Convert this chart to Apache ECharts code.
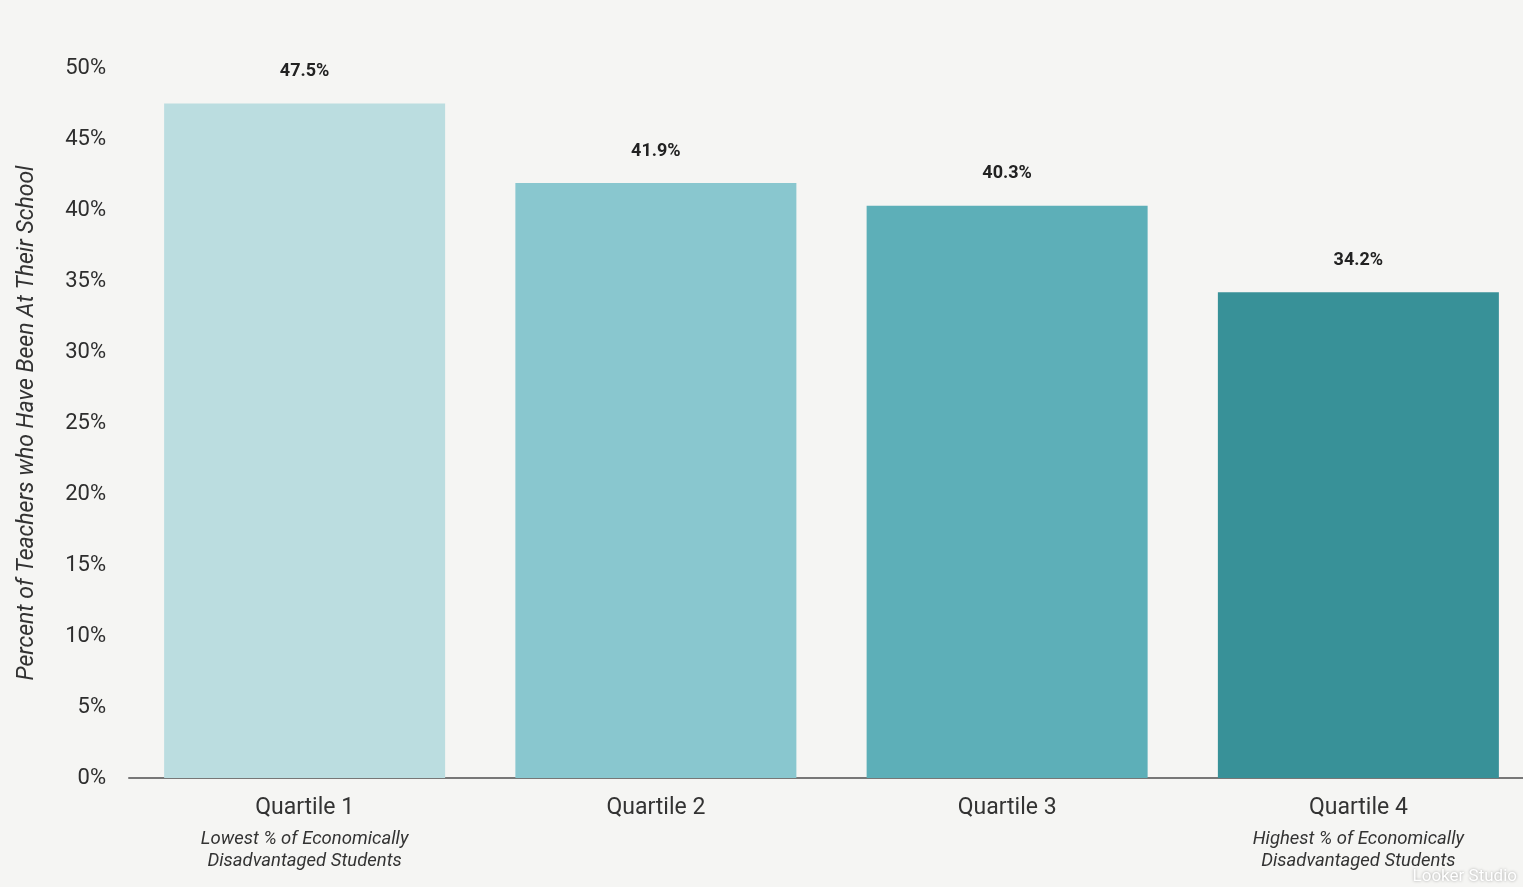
<!DOCTYPE html>
<html>
<head>
<meta charset="utf-8">
<script src="https://cdn.jsdelivr.net/npm/echarts@6/dist/echarts.min.js"></script>
<style>
html,body{margin:0;padding:0;background:#f5f5f3;}
#chart{width:1523px;height:887px;}
</style>
</head>
<body>
<div id="chart"></div>
<script>
const categories = ['Quartile 1', 'Quartile 2', 'Quartile 3', 'Quartile 4'];
const subLabels = ['Lowest % of Economically\nDisadvantaged Students', '', '', 'Highest % of Economically\nDisadvantaged Students'];
const values = [47.5, 41.9, 40.3, 34.2];
const barColors = ['#bbdde0', '#89c7cf', '#5dafb8', '#389198'];
const yTicks = [0, 5, 10, 15, 20, 25, 30, 35, 40, 45, 50];
const yTitle = 'Percent of Teachers who Have Been At Their School';

const chart = echarts.init(document.getElementById('chart'));
chart.setOption({
  backgroundColor: '#f5f5f3',
  animation: false,
  grid: { left: 129, top: 68, bottom: 109, width: 1405, outerBoundsMode: 'none', containLabel: false },
  xAxis: {
    type: 'category',
    data: categories,
    axisLine: { lineStyle: { color: '#777', width: 2 } },
    axisTick: { show: false },
    axisLabel: {
      margin: 11,
      interval: 0,
      formatter: function (v, i) {
        const s = subLabels[i];
        return '{main|' + v + '}' + (s ? '\n{sub|' + s.split('\n').join('}\n{sub|') + '}' : '');
      },
      rich: {
        main: { fontFamily: 'Roboto', fontSize: 23, color: '#333', lineHeight: 39 },
        sub: { fontFamily: 'Roboto', fontSize: 18.5, fontStyle: 'italic', color: '#333', lineHeight: 22 }
      }
    }
  },
  yAxis: {
    type: 'value',
    min: yTicks[0],
    max: yTicks[yTicks.length - 1],
    interval: 5,
    splitLine: { show: false },
    axisLine: { show: false },
    axisTick: { show: false },
    axisLabel: {
      margin: 23,
      fontFamily: 'Roboto',
      fontSize: 22,
      color: '#2e2e2e',
      formatter: function (v) { return v + '%'; }
    },
    name: yTitle,
    nameLocation: 'middle',
    nameRotate: 90,
    nameGap: 90,
    nameTextStyle: { fontFamily: 'Roboto', fontSize: 23, fontStyle: 'italic', color: '#333' }
  },
  series: [{
    type: 'bar',
    barCategoryGap: '20%',
    data: values.map(function (v, i) { return { value: v, itemStyle: { color: barColors[i] } }; }),
    label: {
      show: true,
      position: 'top',
      distance: 23,
      fontFamily: 'Roboto',
      fontSize: 18,
      fontWeight: 'bold',
      color: '#222',
      formatter: function (p) { return p.value.toFixed(1) + '%'; }
    }
  }],
  graphic: [{
    type: 'text',
    right: 6,
    bottom: 2,
    style: {
      text: 'Looker Studio',
      fontFamily: 'Roboto',
      fontSize: 17,
      fill: '#ffffff',
      textShadowColor: 'rgba(0,0,0,0.35)',
      textShadowBlur: 3
    }
  }]
});
</script>
</body>
</html>
